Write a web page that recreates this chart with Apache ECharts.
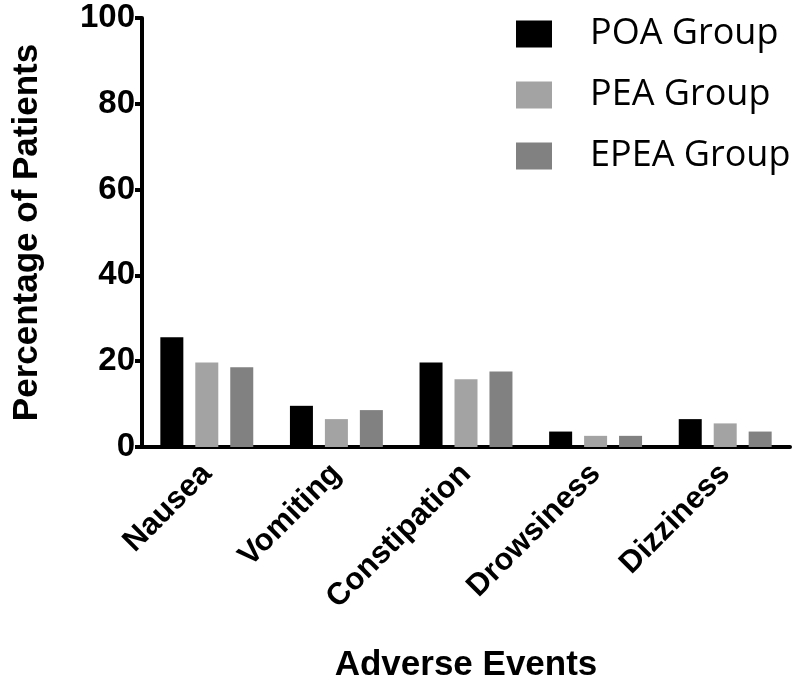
<!DOCTYPE html>
<html>
<head>
<meta charset="utf-8">
<script src="https://cdn.jsdelivr.net/npm/echarts@6/dist/echarts.min.js"></script>
<style>html,body{margin:0;padding:0;background:#fff;}#chart{width:800px;height:686px;}</style>
</head>
<body>
<div id="chart"></div>
<script>
const categories = ['Nausea', 'Vomiting', 'Constipation', 'Drowsiness', 'Dizziness'];
const seriesNames = ['POA Group', 'PEA Group', 'EPEA Group'];
const poaValues = [25.6, 9.6, 19.7, 3.6, 6.5];
const peaValues = [19.7, 6.5, 15.8, 2.6, 5.5];
const epeaValues = [18.6, 8.6, 17.6, 2.6, 3.6];
const yTicks = [0, 20, 40, 60, 80, 100];

const colors = ['#000000', '#a3a3a3', '#818181'];
const allValues = [poaValues, peaValues, epeaValues];
const boldFont = '"Liberation Sans", Arial, sans-serif';

const chart = echarts.init(document.getElementById('chart'));
chart.setOption({
  animation: false,
  backgroundColor: '#ffffff',
  grid: { left: 142, right: 10, top: 18, bottom: 239, containLabel: false, outerBoundsMode: 'none' },
  legend: {
    orient: 'vertical',
    left: 511,
    top: 11,
    icon: 'rect',
    itemWidth: 36,
    itemHeight: 27,
    itemGap: 25,
    data: seriesNames,
    textStyle: { fontFamily: '"Open Sans", "Noto Sans", sans-serif', fontSize: 36, color: '#000', padding: [0, 0, 0, 33] }
  },
  xAxis: {
    type: 'category',
    data: categories,
    name: 'Adverse Events',
    nameLocation: 'middle',
    nameGap: 201,
    nameTextStyle: { fontFamily: boldFont, fontWeight: 'bold', fontSize: 35, color: '#000' },
    axisLine: { lineStyle: { color: '#000', width: 4 } },
    axisTick: { alignWithLabel: true, length: 6, lineStyle: { color: '#000', width: 4 } },
    axisLabel: { rotate: 45, margin: 22, fontFamily: boldFont, fontWeight: 'bold', fontSize: 31, color: '#000' }
  },
  yAxis: {
    type: 'value',
    min: yTicks[0],
    max: yTicks[yTicks.length - 1],
    interval: yTicks[1] - yTicks[0],
    name: 'Percentage of Patients',
    nameLocation: 'middle',
    nameGap: 97,
    nameTextStyle: { fontFamily: boldFont, fontWeight: 'bold', fontSize: 35, color: '#000' },
    axisLine: { show: true, lineStyle: { color: '#000', width: 4 } },
    axisTick: { show: true, length: 7, lineStyle: { color: '#000', width: 4 } },
    axisLabel: { margin: 7, fontFamily: boldFont, fontWeight: 'bold', fontSize: 33, color: '#000' },
    splitLine: { show: false }
  },
  series: seriesNames.map((name, i) => ({
    name: name,
    type: 'bar',
    data: allValues[i],
    barWidth: 23,
    barGap: '52%',
    itemStyle: { color: colors[i] }
  }))
});
</script>
</body>
</html>
